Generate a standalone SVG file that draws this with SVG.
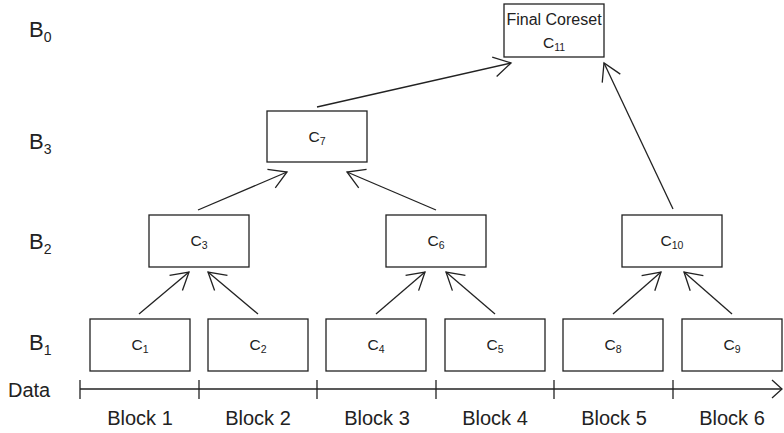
<svg xmlns="http://www.w3.org/2000/svg" width="784" height="433" viewBox="0 0 784 433">
<defs>
<style>
.box{fill:#fff;stroke:#222;stroke-width:1.3}
.lbl{font-family:"Liberation Sans",Arial,sans-serif;font-size:15.5px;fill:#222;text-anchor:middle}
.big{font-family:"Liberation Sans",Arial,sans-serif;font-size:20px;fill:#222}
.blev{font-family:"Liberation Sans",Arial,sans-serif;font-size:22px;fill:#222}
.sub{font-size:10.5px}
.bsub{font-size:14px}
.edge{stroke:#222;stroke-width:1.3;fill:none;marker-end:url(#arr)}
.axis{stroke:#222;stroke-width:1.3;fill:none}
</style>
<marker id="arr" markerUnits="userSpaceOnUse" markerWidth="24" markerHeight="24" viewBox="-20 -12 24 24" refX="0" refY="0" orient="auto">
<path d="M-17,-10 L0,0 L-17,10" fill="none" stroke="#222" stroke-width="1.3"/>
</marker>
</defs>
<rect width="784" height="433" fill="#fff"/>

<g id="levels">
<text class="blev" x="29" y="37">B<tspan class="bsub" dy="5">0</tspan></text>
<text class="blev" x="29" y="149">B<tspan class="bsub" dy="5">3</tspan></text>
<text class="blev" x="29" y="249">B<tspan class="bsub" dy="5">2</tspan></text>
<text class="blev" x="29" y="350">B<tspan class="bsub" dy="5">1</tspan></text>
<text class="big" x="8" y="397">Data</text>
</g>

<g id="axis">
<line class="axis" x1="80" y1="389" x2="782" y2="389"/>
<path class="axis" d="M772,380 L782,389 L772,398"/>
<line class="axis" x1="80" y1="380" x2="80" y2="399"/>
<line class="axis" x1="199" y1="380" x2="199" y2="399"/>
<line class="axis" x1="317" y1="380" x2="317" y2="399"/>
<line class="axis" x1="436" y1="380" x2="436" y2="399"/>
<line class="axis" x1="554" y1="380" x2="554" y2="399"/>
<line class="axis" x1="673" y1="380" x2="673" y2="399"/>
<g class="big" text-anchor="middle">
<text x="140" y="425">Block 1</text>
<text x="258" y="425">Block 2</text>
<text x="377" y="425">Block 3</text>
<text x="495" y="425">Block 4</text>
<text x="614" y="425">Block 5</text>
<text x="732" y="425">Block 6</text>
</g>
</g>

<g id="connectors">
<line class="edge" x1="139" y1="314" x2="189" y2="272"/>
<line class="edge" x1="258" y1="314" x2="208" y2="272"/>
<line class="edge" x1="376" y1="314" x2="425" y2="272"/>
<line class="edge" x1="495" y1="314" x2="446" y2="272"/>
<line class="edge" x1="613" y1="314" x2="661" y2="272"/>
<line class="edge" x1="732" y1="314" x2="684" y2="272"/>
<line class="edge" x1="198" y1="210" x2="287" y2="172"/>
<line class="edge" x1="436" y1="210" x2="347" y2="172"/>
<line class="edge" x1="317" y1="107" x2="511" y2="63"/>
<line class="edge" x1="673" y1="209" x2="604" y2="63"/>
</g>

<g id="C1"><rect class="box" x="90" y="319" width="100" height="52"/><text class="lbl" x="140" y="350">C<tspan class="sub" dy="3">1</tspan></text></g>
<g id="C2"><rect class="box" x="208" y="319" width="100" height="52"/><text class="lbl" x="258" y="350">C<tspan class="sub" dy="3">2</tspan></text></g>
<g id="C4"><rect class="box" x="326" y="319" width="100" height="52"/><text class="lbl" x="376" y="350">C<tspan class="sub" dy="3">4</tspan></text></g>
<g id="C5"><rect class="box" x="445" y="319" width="100" height="52"/><text class="lbl" x="495" y="350">C<tspan class="sub" dy="3">5</tspan></text></g>
<g id="C8"><rect class="box" x="563" y="319" width="100" height="52"/><text class="lbl" x="613" y="350">C<tspan class="sub" dy="3">8</tspan></text></g>
<g id="C9"><rect class="box" x="682" y="319" width="100" height="52"/><text class="lbl" x="732" y="350">C<tspan class="sub" dy="3">9</tspan></text></g>
<g id="C3"><rect class="box" x="149" y="215" width="100" height="52"/><text class="lbl" x="199" y="246">C<tspan class="sub" dy="3">3</tspan></text></g>
<g id="C6"><rect class="box" x="386" y="215" width="100" height="52"/><text class="lbl" x="436" y="246">C<tspan class="sub" dy="3">6</tspan></text></g>
<g id="C10"><rect class="box" x="622" y="215" width="100" height="52"/><text class="lbl" x="672" y="246">C<tspan class="sub" dy="3">10</tspan></text></g>
<g id="C7"><rect class="box" x="267" y="111" width="100" height="51"/><text class="lbl" x="317" y="142">C<tspan class="sub" dy="3">7</tspan></text></g>
<g id="C11"><rect class="box" x="504" y="4" width="100" height="53"/><text class="lbl" x="554" y="25" style="font-size:16px">Final Coreset</text><text class="lbl" x="554" y="48">C<tspan class="sub" dy="3">11</tspan></text></g>
</svg>
